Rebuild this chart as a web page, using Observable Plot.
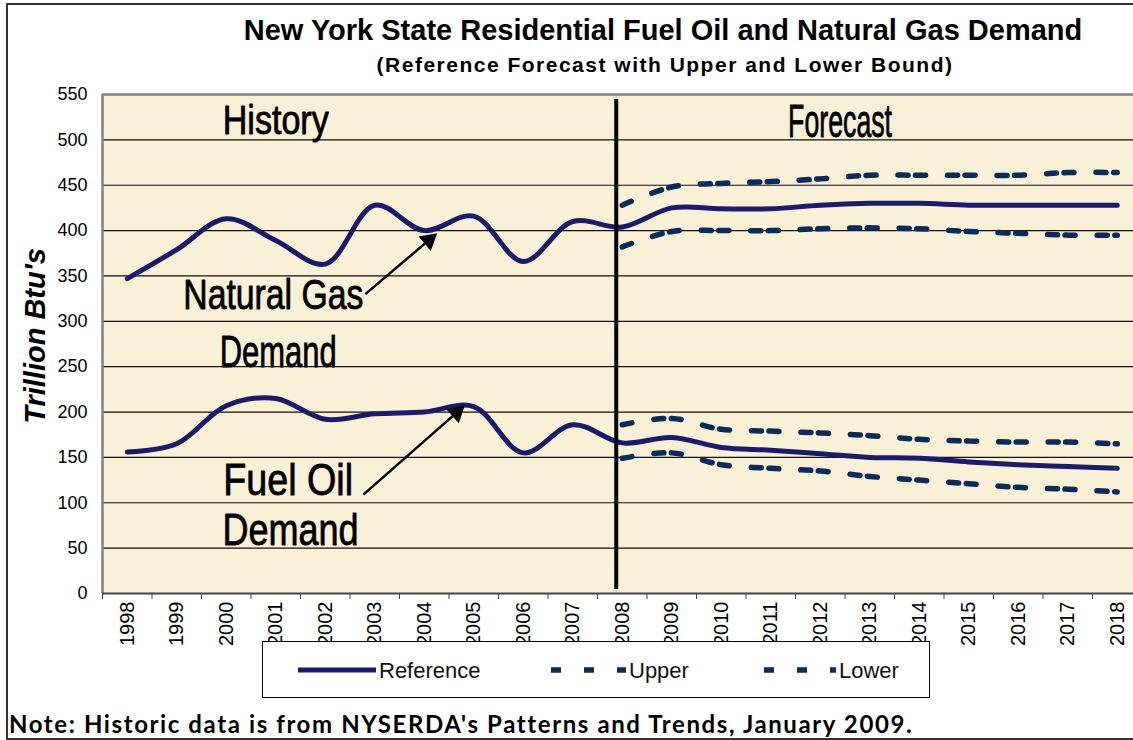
<!DOCTYPE html>
<html><head><meta charset="utf-8">
<script src="https://cdn.jsdelivr.net/npm/d3@7"></script>
<script src="https://cdn.jsdelivr.net/npm/@observablehq/plot@0.6"></script>
<style>
html,body{margin:0;padding:0;background:#fff;}
#wrap{position:relative;width:1133px;height:740px;overflow:hidden;font-family:"Liberation Sans",Arial,sans-serif;color:#000;}
#border{position:absolute;left:6px;top:3px;width:1140px;height:737px;border:2px solid #333;box-sizing:border-box;}
.ttl{position:absolute;transform:translateX(-50%);white-space:nowrap;font-weight:bold;font-family:"Liberation Sans",Arial,sans-serif;}
#title{left:663px;top:14px;font-size:29px;}
#subtitle{left:665px;top:53px;font-size:21px;letter-spacing:1.5px;}
#chart{position:absolute;left:0;top:80px;}
#legend{position:absolute;left:262px;top:641px;width:668px;height:57px;background:#fff;border:1px solid #000;box-sizing:border-box;}
#legend svg{position:absolute;left:0;top:0;}
#note{position:absolute;left:9px;top:709px;font-family:Lato,"Open Sans",sans-serif;font-weight:bold;font-size:24px;letter-spacing:1.6px;white-space:nowrap;}
</style>
</head><body>
<div id="wrap">
  <div id="border"></div>
  <div id="title" class="ttl">New York State Residential Fuel Oil and Natural Gas Demand</div>
  <div id="subtitle" class="ttl">(Reference Forecast with Upper and Lower Bound)</div>
  <div id="chart"></div>
  <div id="legend"></div>
  <div id="note">Note: Historic data is from NYSERDA's Patterns and Trends, January 2009.</div>
</div>
<script>
// ---- data ----
const years = [1998,1999,2000,2001,2002,2003,2004,2005,2006,2007,2008,2009,2010,2011,2012,2013,2014,2015,2016,2017,2018];
const forecastYears = [2008,2009,2010,2011,2012,2013,2014,2015,2016,2017,2018];
const gasReference = [347,379,413,389,363,428,400,416,366,410,404,425,424,424,428,430,430,428,428,428,428];
const gasUpper = [428,448,452,454,457,461,461,461,461,464,464];
const gasLower = [382,399,400,400,402,403,402,399,397,395,395];
const oilReference = [156,165,207,215,192,198,200,206,155,186,166,172,161,158,154,150,149,145,142,140,138];
const oilUpper = [186,193,181,179,177,174,170,168,167,167,165];
const oilLower = [149,155,142,138,135,129,125,121,117,115,112];
const yTicks = [0,50,100,150,200,250,300,350,400,450,500,550];
const forecastStart = 2008;
const seriesNames = ["Reference","Upper","Lower"];
const annotations = [
  {text:"History", x:2001.0, y:521},
  {text:"Forecast", x:2012.4, y:519},
  {text:"Natural Gas", x:2000.95, y:328},
  {text:"Demand", x:2001.05, y:265},
  {text:"Fuel Oil", x:2001.25, y:124},
  {text:"Demand", x:2001.3, y:69}
];
const arrows = [
  {x1:2002.81, y1:330, x2:2004.17, y2:393},
  {x1:2002.77, y1:109, x2:2004.73, y2:203}
];

// ---- styles for annotation text (size in px, condensed width in px) ----
const annotSize = [41, 46, 42, 44, 44, 45];
const annotWidth = [106, 104, 180, 117, 130, 136];

// ---- tables ----
const refRows = [
  ...years.map((yr,i)=>({year:yr, value:gasReference[i], fuel:"gas"})),
  ...years.map((yr,i)=>({year:yr, value:oilReference[i], fuel:"oil"}))
];
const boundRows = [
  ...forecastYears.map((yr,i)=>({year:yr, value:gasUpper[i], s:"gasU"})),
  ...forecastYears.map((yr,i)=>({year:yr, value:gasLower[i], s:"gasL"})),
  ...forecastYears.map((yr,i)=>({year:yr, value:oilUpper[i], s:"oilU"})),
  ...forecastYears.map((yr,i)=>({year:yr, value:oilLower[i], s:"oilL"}))
];
const boundaries = years.map(y=>y-0.5).concat([years[years.length-1]+0.5]);
const refColor = "#1a1c6b", boundColor = "#0d2b5a";

const W = 1133, H = 580, mT = 14, mB = 67, mL = 102;
const xDomain = [1997.5, 2018.5], xRange = [102, 1141.5];
const yDomain = [0, 550];
// pixel helpers (same mapping as the Plot scales) for arrowhead orientation
const px = d3.scaleLinear(xDomain, xRange);
const py = d3.scaleLinear(yDomain, [H - mB, mT]);
const heads = arrows.map(a => {
  const dx = px(a.x2) - px(a.x1), dy = py(a.y2) - py(a.y1);
  const len = Math.hypot(dx, dy);
  const back = 5;
  return {
    x: px.invert(px(a.x2) - dx/len*back),
    y: py.invert(py(a.y2) - dy/len*back),
    angle: Math.atan2(dx, -dy) * 180 / Math.PI
  };
});
const arrowShafts = arrows.map(a => {
  const dx = px(a.x2) - px(a.x1), dy = py(a.y2) - py(a.y1);
  const len = Math.hypot(dx, dy);
  return {x1:a.x1, y1:a.y1, x2:px.invert(px(a.x2) - dx/len*8), y2:py.invert(py(a.y2) - dy/len*8)};
});

const chart = Plot.plot({
  width:W, height:H,
  marginTop:mT, marginBottom:mB, marginLeft:mL, marginRight:0,
  x:{type:"linear", domain:xDomain, range:xRange},
  y:{domain:yDomain},
  style:{fontFamily:"Liberation Sans, Arial, sans-serif", background:"transparent", color:"#000"},
  marks:[
    Plot.frame({fill:"#f9f0d8", stroke:null}),
    Plot.ruleY(yTicks.filter(d=>d>0 && d<550), {stroke:"#111", strokeWidth:1.2}),
    Plot.ruleY([550], {stroke:"#808080", strokeWidth:2.5}),
    Plot.ruleX([1997.5], {stroke:"#808080", strokeWidth:2.5}),
    Plot.ruleY([0], {stroke:"#444", strokeWidth:2}),
    Plot.axisY({ticks:yTicks, tickSize:0, tickPadding:15, fontSize:18, label:null, tickFormat:d=>String(d)}),
    Plot.axisX({ticks:years, tickSize:0, tickRotate:-90, tickPadding:8, fontSize:20, label:null, tickFormat:d=>String(d)}),
    Plot.axisX({ticks:boundaries, tickSize:6, tickFormat:()=>"", label:null, stroke:"#444"}),
    Plot.text([yTicks], {frameAnchor:"left", text:()=>"Trillion Btu's", rotate:-90, textAnchor:"middle", dx:-67, dy:-8, fontSize:29, fontWeight:"bold", fontStyle:"italic"}),
    Plot.line(refRows, {x:"year", y:"value", z:"fuel", stroke:refColor, strokeWidth:5, curve:"catmull-rom"}),
    Plot.line(boundRows, {x:"year", y:"value", z:"s", stroke:boundColor, strokeWidth:5.5, strokeDasharray:"10,22,10,7.5", curve:"catmull-rom"}),
    Plot.ruleX([forecastStart], {y1:0, y2:550, stroke:"#000", strokeWidth:4, dx:-6, insetTop:-4, insetBottom:-5}),
    Plot.text(annotations, {x:"x", y:"y", text:"text", fontSize:(d,i)=>annotSize[i], fill:"#000", stroke:"#000", strokeWidth:0.8}),
    Plot.link(arrowShafts, {x1:"x1", y1:"y1", x2:"x2", y2:"y2", stroke:"#000", strokeWidth:2.5}),
    Plot.dot(heads, {x:"x", y:"y", symbol:"triangle", rotate:"angle", r:7, fill:"#000", stroke:null})
  ]
});
document.getElementById("chart").appendChild(chart);

// condense annotation text (narrow face look)
const annotTexts = annotations.map(a => a.text);
let k = 0;
chart.querySelectorAll("text").forEach(t => {
  if (k < annotTexts.length && t.textContent === annotTexts[k]) {
    t.setAttribute("textLength", annotWidth[k]);
    t.setAttribute("lengthAdjust", "spacingAndGlyphs");
    k++;
  }
});

// ---- legend ----
const lg = d3.select("#legend").append("svg").attr("width",668).attr("height",57);
const legendItems = [
  {name:seriesNames[0], x0:35, dashed:false, tx:116},
  {name:seriesNames[1], x0:288, dashed:true, tx:366},
  {name:seriesNames[2], x0:501, dashed:true, tx:576}
];
legendItems.forEach(it=>{
  lg.append("line").attr("x1",it.x0).attr("x2",it.tx-3).attr("y1",28).attr("y2",28)
    .attr("stroke", it.dashed?boundColor:refColor).attr("stroke-width", it.dashed?5.5:5)
    .attr("stroke-dasharray", it.dashed?"10,23":null);
  lg.append("text").attr("x",it.tx).attr("y",36).text(it.name)
    .attr("font-size",22).attr("font-family","Liberation Sans, Arial, sans-serif").attr("fill","#111");
});
</script>
</body></html>
